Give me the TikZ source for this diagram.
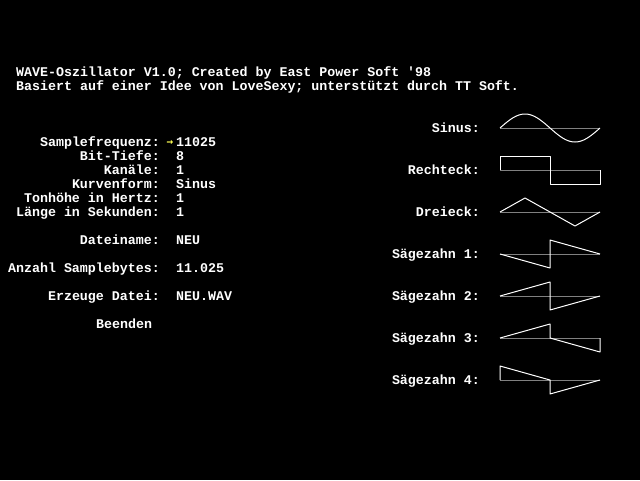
\documentclass[tikz,border=0pt]{standalone}
\usepackage{fontspec}
\setmonofont{Liberation Mono}
\newfontfamily\symfont{DejaVu Sans Mono}
\definecolor{axisgray}{RGB}{128,128,128}
\definecolor{dosyellow}{RGB}{255,255,85}
\tikzset{
  screen/.style={font=\ttfamily\bfseries\fontsize{13.3}{14}\selectfont,text=white,inner sep=0pt},
  lbl/.style={screen,anchor=base east},
  val/.style={screen,anchor=base west},
  axisline/.style={axisgray,line width=1pt},
  wave/.style={white,line width=1pt,line join=round}
}
\begin{document}
\begin{tikzpicture}[x=1pt,y=-1pt]
\useasboundingbox[fill=black] (0,0) rectangle (640,480);

\node[val] (title1) at (16,76) {WAVE-Oszillator V1.0; Created by East Power Soft '98};
\node[val] (title2) at (16,90) {Basiert auf einer Idee von LoveSexy; unterstützt durch TT Soft.};
%---------------------------------------------------------------------------------------------------
\node[lbl] (lblRate)  at (160,146) {Samplefrequenz:};
\node[lbl] (lblBits)  at (160,160) {Bit-Tiefe:};
\node[lbl] (lblChan)  at (160,174) {Kanäle:};
\node[lbl] (lblForm)  at (160,188) {Kurvenform:};
\node[lbl] (lblFreq)  at (160,202) {Tonhöhe in Hertz:};
\node[lbl] (lblSecs)  at (160,216) {Länge in Sekunden:};
\node[lbl] (lblName)  at (160,244) {Dateiname:};
\node[lbl] (lblBytes) at (160,272) {Anzahl Samplebytes:};
\node[lbl] (lblMake)  at (160,300) {Erzeuge Datei:};
\node[val] (quit)     at (96,328) {Beenden};

\node[screen,text=dosyellow,anchor=base west,font=\symfont\bfseries\fontsize{11}{12}\selectfont] (cursor) at (166.5,145.5) {→};
\node[val] (valRate)  at (176,146) {11025};
\node[val] (valBits)  at (176,160) {8};
\node[val] (valChan)  at (176,174) {1};
\node[val] (valForm)  at (176,188) {Sinus};
\node[val] (valFreq)  at (176,202) {1};
\node[val] (valSecs)  at (176,216) {1};
\node[val] (valName)  at (176,244) {NEU};
\node[val] (valBytes) at (176,272) {11.025};
\node[val] (valMake)  at (176,300) {NEU.WAV};
%---------------------------------------------------------------------------------------------------
\node[lbl] (lblSin)  at (480,132) {Sinus:};
\node[lbl] (lblRect) at (480,174) {Rechteck:};
\node[lbl] (lblTri)  at (480,216) {Dreieck:};
\node[lbl] (lblSaw1) at (480,258) {Sägezahn 1:};
\node[lbl] (lblSaw2) at (480,300) {Sägezahn 2:};
\node[lbl] (lblSaw3) at (480,342) {Sägezahn 3:};
\node[lbl] (lblSaw4) at (480,384) {Sägezahn 4:};

\draw[axisline] (500,128) -- (600,128) (500,170) -- (600,170) (500,212) -- (600,212);
\draw[axisline] (500,254) -- (600,254) (500,296) -- (600,296) (500,338) -- (600,338) (500,380) -- (600,380);

%\draw[wave] (500,128) sin (525,114) cos (550,128) sin (575,142) cos (600,128);
\draw[wave] plot[domain=0:360,samples=73,smooth] ({500+\x/3.6},{128-14*sin(\x)});
\draw[wave] (500,170) -- (500,156) -- (550,156) -- (550,184) -- (600,184) -- (600,170);
\draw[wave] (500,212) -- (525,198) -- (575,226) -- (600,212);
\draw[wave] (500,254) -- (550,268) -- (550,240) -- (600,254);
\draw[wave] (500,296) -- (550,282) -- (550,310) -- (600,296);
\draw[wave] (500,338) -- (550,324) -- (550,338) -- (600,352) -- (600,338);
\draw[wave] (500,380) -- (500,366) -- (550,380) -- (550,394) -- (600,380);
\end{tikzpicture}
\end{document}
